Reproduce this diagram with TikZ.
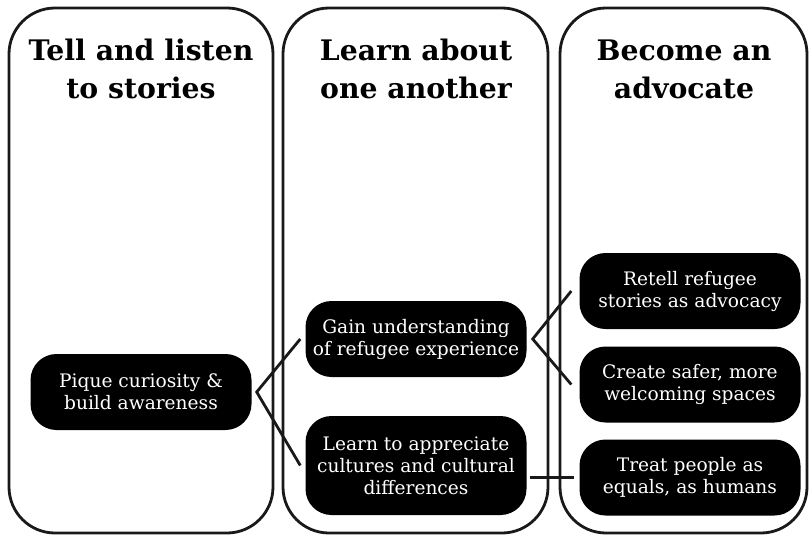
\documentclass[tikz,border=0pt]{standalone}
\usepackage{fontspec}
\setmainfont{DejaVu Serif}
\begin{document}
\begin{tikzpicture}[x=1pt,y=-1pt,
  col/.style={draw=black!90, line width=2.8pt, rounded corners=46pt},
  title/.style={font=\bfseries\fontsize{28.3}{38}\selectfont, align=center, text=black},
  item/.style={fill=black, text=white, rounded corners=26pt, minimum width=221pt, minimum height=76pt, align=center, inner sep=1pt, font=\fontsize{18.6}{22}\selectfont},
  conn/.style={draw=black!90, line width=2.8pt}]
\useasboundingbox (0,0) rectangle (812,538);
\draw[col] (9,8) rectangle (273,533);
\draw[col] (283,8) rectangle (548,533);
\draw[col] (560,8) rectangle (807,533);
\node[title] (t1) at (141,69) {Tell and listen\\to stories};
\node[title] (t2) at (416,69) {Learn about\\one another};
\node[title] (t3) at (684,69) {Become an\\advocate};
\node[item] (pique) at (141,392) {Pique curiosity \&\\build awareness};
\node[item] (gain) at (416,339) {Gain understanding\\of refugee experience};
\node[item, minimum height=99pt] (learn) at (416,465.5) {Learn to appreciate\\cultures and cultural\\differences};
\node[item] (retell) at (690,291) {Retell refugee\\stories as advocacy};
\node[item] (create) at (690,384.5) {Create safer, more\\welcoming spaces};
\node[item] (treat) at (690,477.5) {Treat people as\\equals, as humans};
\draw[conn] ([xshift=-5pt]gain.west) -- ([xshift=5pt]pique.east) -- ([xshift=-5pt]learn.west);
\draw[conn] ([xshift=-8pt]retell.west) -- ([xshift=6pt]gain.east) -- ([xshift=-8pt]create.west);
\draw[conn] ([xshift=3pt]learn.east |- treat.west) -- ([xshift=-5pt]treat.west);
\end{tikzpicture}
\end{document}
